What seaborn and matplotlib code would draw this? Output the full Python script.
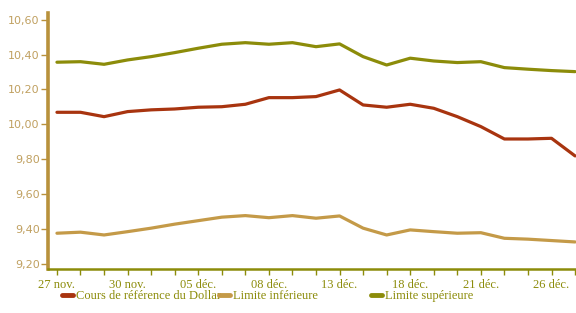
import pandas as pd
import matplotlib
matplotlib.use("Agg")
import matplotlib.pyplot as plt
from matplotlib.ticker import FuncFormatter
import seaborn as sns

# Values
dates = ["27 nov.", "28 nov.", "29 nov.", "30 nov.", "01 déc.", "04 déc.",
         "05 déc.", "06 déc.", "07 déc.", "08 déc.", "11 déc.", "12 déc.",
         "13 déc.", "14 déc.", "15 déc.", "18 déc.", "19 déc.", "20 déc.",
         "21 déc.", "22 déc.", "25 déc.", "26 déc.", "27 déc."]
cours = [10.069, 10.069, 10.044, 10.073, 10.083, 10.088, 10.098, 10.101,
         10.115, 10.153, 10.153, 10.159, 10.197, 10.111, 10.098, 10.115,
         10.092, 10.044, 9.987, 9.916, 9.916, 9.920, 9.819]
lim_inf = [9.376, 9.382, 9.366, 9.385, 9.405, 9.428, 9.448, 9.468, 9.477,
           9.465, 9.477, 9.462, 9.475, 9.405, 9.366, 9.395, 9.385, 9.376,
           9.379, 9.347, 9.342, 9.334, 9.326]
lim_sup = [10.356, 10.359, 10.344, 10.369, 10.388, 10.411, 10.436, 10.459,
           10.468, 10.459, 10.468, 10.445, 10.461, 10.388, 10.340, 10.379,
           10.363, 10.354, 10.359, 10.325, 10.316, 10.308, 10.302]
y_ticks = [9.2, 9.4, 9.6, 9.8, 10.0, 10.2, 10.4, 10.6]

names = ["Cours de référence du Dollar", "Limite inférieure", "Limite supérieure"]
colors = ["#a8340f", "#c49a48", "#8c8c0a"]

df = pd.concat([
    pd.DataFrame({"pos": range(len(dates)), "valeur": vals, "serie": name})
    for name, vals in zip(names, [cours, lim_inf, lim_sup])
])

sns.set_style("white")
plt.rcParams["font.family"] = ["Liberation Serif", "DejaVu Serif"]

fig = plt.figure(figsize=(5.76, 3.13), dpi=100)
ax = fig.add_axes([48 / 576, 44 / 313, 528 / 576, 256 / 313])

sns.lineplot(data=df, x="pos", y="valeur", hue="serie", hue_order=names,
             palette=colors, linewidth=2.3, ax=ax, legend=True)

ax.set_xlim(-0.38, 22.04)
ax.set_ylim(9.171, 10.638)
ax.set_xlabel("")
ax.set_ylabel("")

for s in ["top", "right"]:
    ax.spines[s].set_visible(False)
ax.spines["left"].set_color("#b8913c")
ax.spines["left"].set_linewidth(2.6)
ax.spines["bottom"].set_color("#8c8c0a")
ax.spines["bottom"].set_linewidth(1.8)

ax.set_yticks(y_ticks)
ax.yaxis.set_major_formatter(FuncFormatter(lambda v, p: f"{v:.2f}".replace(".", ",")))
ax.tick_params(axis="y", left=True, length=5, width=1, color="#b8913c",
               labelcolor="#c0a060", labelsize=8, pad=1)
for lab in ax.get_yticklabels():
    lab.set_family(["DejaVu Sans"])

ax.set_xticks(range(len(dates)))
ax.set_xticklabels([d if i % 3 == 0 else "" for i, d in enumerate(dates)])
ax.tick_params(axis="x", bottom=True, length=4, width=1, color="#8c8c0a",
               labelcolor="#8c8c0a", labelsize=9, pad=3)

handles, labels = ax.get_legend_handles_labels()
ax.get_legend().remove()
legend_x = [62 / 576, 219 / 576, 371 / 576]
for h, l, x in zip(handles, labels, legend_x):
    h.set_linewidth(3.5)
    fig.legend([h], [l], loc="center left", bbox_to_anchor=(x, 1 - 296 / 313),
               frameon=False, fontsize=9, handlelength=0.9, handletextpad=0.25,
               borderaxespad=0, borderpad=0, labelcolor="#8c8c0a")

fig.savefig("out.png", dpi=100)
